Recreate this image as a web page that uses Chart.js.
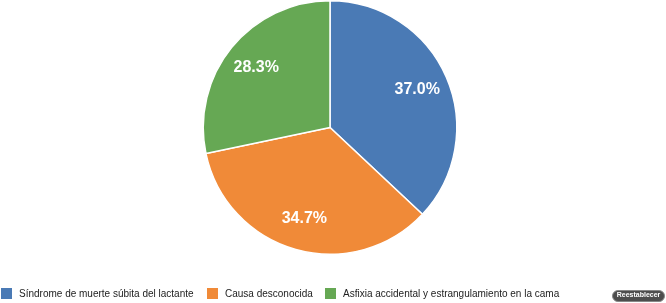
<!DOCTYPE html>
<html><head><meta charset="utf-8">
<script src="https://cdn.jsdelivr.net/npm/chart.js@4/dist/chart.umd.min.js"></script>
<style>
html,body{margin:0;padding:0;background:#fff;}
#wrap{position:relative;width:666px;height:303px;overflow:hidden;}
#c{position:absolute;left:0;top:0;}
#legend{position:absolute;left:0;top:288px;height:12px;font:10px "Liberation Sans",Arial,sans-serif;color:#222;white-space:nowrap;}
#legend .it{position:absolute;top:0;height:12px;}
#legend .sw{position:absolute;top:0;width:11px;height:11px;}
#legend .tx{position:absolute;top:-1px;line-height:13px;}
#btn{position:absolute;left:612px;top:290px;width:51px;height:10px;line-height:10px;text-align:center;background:#4d4d4d;border:1px solid #888;color:#fff;
 font:bold 7px "Liberation Sans",Arial,sans-serif;border-radius:6px;}
</style></head><body>
<div id="wrap"><canvas id="c" width="666" height="303"></canvas><div id="legend"></div><div id="btn">Reestablecer</div></div>
<script>
const categories = ["Síndrome de muerte súbita del lactante", "Causa desconocida", "Asfixia accidental y estrangulamiento en la cama"];
const values = [37.0, 34.7, 28.3];
const colors = ["#4a7ab5", "#f08a38", "#66a854"];
const legendSwatchX = [1, 207, 325];

const labelPlugin = {
  id: 'sliceLabels',
  afterDatasetsDraw(chart) {
    const ctx = chart.ctx;
    const meta = chart.getDatasetMeta(0);
    ctx.save();
    ctx.fillStyle = '#fff';
    ctx.font = 'bold 16px "Liberation Sans", Arial, sans-serif';
    ctx.textAlign = 'center';
    ctx.textBaseline = 'middle';
    meta.data.forEach((arc, i) => {
      const p = arc.getProps(['startAngle','endAngle','outerRadius','x','y'], true);
      const mid = (p.startAngle + p.endAngle) / 2;
      const r = p.outerRadius * 0.75;
      ctx.fillText(values[i].toFixed(1) + '%', p.x + Math.cos(mid) * r, p.y + Math.sin(mid) * r);
    });
    ctx.restore();
  }
};

const chart = new Chart(document.getElementById('c'), {
  type: 'pie',
  data: { labels: categories, datasets: [{ data: values, backgroundColor: colors, borderColor: '#fff', borderWidth: 1.5 }] },
  options: {
    responsive: false, animation: false,
    layout: { padding: { top: 0, right: 6, bottom: 48, left: 0 } },
    plugins: { tooltip: { enabled: false }, legend: { display: false } }
  },
  plugins: [labelPlugin]
});

// HTML legend built from the chart's own data
const lg = document.getElementById('legend');
chart.data.labels.forEach((lab, i) => {
  const it = document.createElement('div'); it.className = 'it'; it.style.left = legendSwatchX[i] + 'px';
  const sw = document.createElement('div'); sw.className = 'sw'; sw.style.background = chart.data.datasets[0].backgroundColor[i];
  const tx = document.createElement('div'); tx.className = 'tx'; tx.style.left = '18px'; tx.textContent = lab;
  it.appendChild(sw); it.appendChild(tx); lg.appendChild(it);
});
</script>
</body></html>
